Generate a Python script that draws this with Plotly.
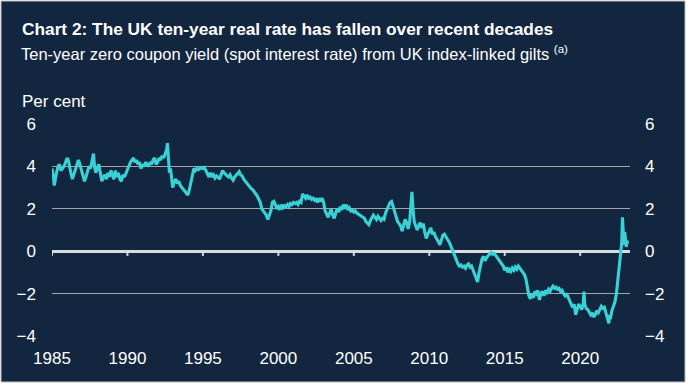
import plotly.graph_objects as go

# ---- data ----
years = [
    1985.00, 1985.08, 1985.15, 1985.22, 1985.30, 1985.40, 1985.50, 1985.60, 1985.70, 1985.80, 1985.90,
    1986.00, 1986.08, 1986.15, 1986.25, 1986.35, 1986.45, 1986.55, 1986.65, 1986.75, 1986.85, 1986.95,
    1987.05, 1987.15, 1987.25, 1987.35, 1987.45, 1987.55, 1987.65, 1987.75, 1987.82, 1987.90,
    1988.00, 1988.10, 1988.20, 1988.30, 1988.40, 1988.50, 1988.60, 1988.70, 1988.80, 1988.90,
    1989.00, 1989.10, 1989.20, 1989.30, 1989.40, 1989.50, 1989.60, 1989.70, 1989.80, 1989.90,
    1990.00, 1990.10, 1990.20, 1990.30, 1990.40, 1990.50, 1990.60, 1990.70, 1990.80, 1990.90,
    1991.00, 1991.10, 1991.20, 1991.30, 1991.40, 1991.50, 1991.60, 1991.70, 1991.80, 1991.90,
    1992.00, 1992.10, 1992.20, 1992.30, 1992.40, 1992.50, 1992.60, 1992.65, 1992.72, 1992.78, 1992.85, 1992.92,
    1993.00, 1993.10, 1993.20, 1993.30, 1993.40, 1993.50, 1993.60, 1993.70, 1993.80, 1993.90,
    1994.00, 1994.10, 1994.20, 1994.30, 1994.40, 1994.50, 1994.60, 1994.70, 1994.80, 1994.90,
    1995.00, 1995.10, 1995.20, 1995.30, 1995.40, 1995.50, 1995.60, 1995.70, 1995.80, 1995.90,
    1996.00, 1996.10, 1996.20, 1996.30, 1996.40, 1996.50, 1996.60, 1996.70, 1996.80, 1996.90,
    1997.00, 1997.10, 1997.20, 1997.30, 1997.40, 1997.50, 1997.60, 1997.70, 1997.80, 1997.90,
    1998.00, 1998.10, 1998.20, 1998.30, 1998.40, 1998.50, 1998.60, 1998.70, 1998.80, 1998.90,
    1999.00, 1999.10, 1999.20, 1999.30, 1999.40, 1999.50, 1999.60, 1999.70, 1999.80, 1999.90,
    2000.00, 2000.10, 2000.20, 2000.30, 2000.40, 2000.50, 2000.60, 2000.70, 2000.80, 2000.90,
    2001.00, 2001.10, 2001.20, 2001.30, 2001.40, 2001.50, 2001.60, 2001.70, 2001.80, 2001.90,
    2002.00, 2002.10, 2002.20, 2002.30, 2002.40, 2002.50, 2002.60, 2002.70, 2002.80, 2002.90,
    2003.00, 2003.10, 2003.20, 2003.30, 2003.40, 2003.50, 2003.60, 2003.70, 2003.80, 2003.90,
    2004.00, 2004.10, 2004.20, 2004.30, 2004.40, 2004.50, 2004.60, 2004.70, 2004.80, 2004.90,
    2005.00, 2005.10, 2005.20, 2005.30, 2005.40, 2005.50, 2005.60, 2005.70, 2005.80, 2005.90,
    2006.00, 2006.10, 2006.20, 2006.30, 2006.40, 2006.50, 2006.60, 2006.70, 2006.80, 2006.90,
    2007.00, 2007.10, 2007.20, 2007.30, 2007.40, 2007.50, 2007.60, 2007.70, 2007.80, 2007.90,
    2008.00, 2008.10, 2008.20, 2008.30, 2008.40, 2008.50, 2008.60, 2008.70, 2008.80, 2008.85, 2008.92,
    2009.00, 2009.10, 2009.20, 2009.30, 2009.40, 2009.50, 2009.60, 2009.70, 2009.80, 2009.90,
    2010.00, 2010.10, 2010.20, 2010.30, 2010.40, 2010.50, 2010.60, 2010.70, 2010.80, 2010.90,
    2011.00, 2011.10, 2011.20, 2011.30, 2011.40, 2011.50, 2011.60, 2011.70, 2011.80, 2011.90,
    2012.00, 2012.10, 2012.20, 2012.30, 2012.40, 2012.50, 2012.60, 2012.70, 2012.80, 2012.90,
    2013.00, 2013.10, 2013.20, 2013.30, 2013.40, 2013.50, 2013.60, 2013.70, 2013.80, 2013.90,
    2014.00, 2014.10, 2014.20, 2014.30, 2014.40, 2014.50, 2014.60, 2014.70, 2014.80, 2014.90,
    2015.00, 2015.10, 2015.20, 2015.30, 2015.40, 2015.50, 2015.60, 2015.70, 2015.80, 2015.90,
    2016.00, 2016.10, 2016.20, 2016.30, 2016.40, 2016.50, 2016.60, 2016.70, 2016.80, 2016.90,
    2017.00, 2017.10, 2017.20, 2017.30, 2017.40, 2017.50, 2017.60, 2017.70, 2017.80, 2017.90,
    2018.00, 2018.10, 2018.20, 2018.30, 2018.40, 2018.50, 2018.60, 2018.70, 2018.80, 2018.90,
    2019.00, 2019.10, 2019.20, 2019.30, 2019.40, 2019.50, 2019.60, 2019.70, 2019.80, 2019.90,
    2020.00, 2020.10, 2020.20, 2020.25, 2020.30, 2020.40, 2020.50, 2020.60, 2020.70, 2020.80, 2020.90,
    2021.00, 2021.10, 2021.20, 2021.30, 2021.40, 2021.50, 2021.60, 2021.70, 2021.80, 2021.90, 2021.95,
    2022.00, 2022.10, 2022.20, 2022.30, 2022.40, 2022.50, 2022.55, 2022.60, 2022.65, 2022.70, 2022.75,
    2022.80, 2022.85, 2022.90, 2022.95, 2023.00, 2023.05, 2023.10, 2023.15,
]

real_rate = [
    3.9, 3.6, 3.1, 3.5, 3.7, 4.0, 4.1, 3.8, 3.9, 4.0, 4.2,
    4.4, 4.3, 4.0, 3.7, 3.4, 3.6, 3.9, 4.0, 4.3, 4.1, 3.8,
    3.6, 3.3, 3.5, 3.8, 4.0, 3.9, 4.2, 4.6, 4.0, 3.7,
    3.9, 4.1, 3.7, 3.3, 3.5, 3.6, 3.4, 3.7, 3.5, 3.8,
    3.6, 3.4, 3.8, 3.5, 3.7, 3.4, 3.3, 3.6, 3.5, 3.7,
    3.9, 4.1, 4.2, 4.3, 4.4, 4.2, 4.3, 4.1, 4.2, 3.9,
    4.1, 4.0, 4.2, 4.1, 4.0, 4.2, 4.1, 4.3, 4.4, 4.1,
    4.2, 4.4, 4.3, 4.5, 4.4, 4.6, 4.8, 5.1, 4.2, 3.7, 3.9, 3.5,
    3.0, 3.3, 3.4, 3.2, 3.3, 3.1, 3.0, 2.9, 2.8, 2.7,
    2.65, 2.9, 3.3, 3.6, 3.9, 3.8, 3.9, 3.85, 3.9, 3.95,
    3.9, 3.95, 3.8, 3.6, 3.5, 3.7, 3.5, 3.6, 3.45, 3.55,
    3.5, 3.4, 3.6, 3.8, 3.7, 3.6, 3.55, 3.5, 3.6, 3.45,
    3.35, 3.5, 3.6, 3.7, 3.75, 3.6, 3.55, 3.4, 3.3, 3.2,
    3.1, 3.0, 2.95, 2.9, 2.8, 2.75, 2.6, 2.45, 2.3, 2.0,
    1.9, 1.8, 1.7, 1.5, 1.75, 1.9, 2.3, 2.35, 2.2, 2.0,
    2.1, 1.95, 2.2, 2.05, 2.15, 2.1, 2.2, 2.1, 2.25, 2.2,
    2.3, 2.25, 2.3, 2.2, 2.35, 2.3, 2.7, 2.6, 2.5, 2.65,
    2.5, 2.55, 2.45, 2.5, 2.4, 2.45, 2.3, 2.5, 2.35, 2.5,
    2.3, 1.9, 1.7, 1.6, 1.8, 2.0, 1.7, 1.55, 1.8, 2.0,
    1.85, 2.1, 1.95, 2.2, 2.0, 2.2, 1.95, 2.05, 1.9, 1.95,
    1.85, 1.9, 1.8, 1.75, 1.7, 1.65, 1.6, 1.55, 1.4, 1.3,
    1.25, 1.45, 1.6, 1.7, 1.6, 1.5, 1.65, 1.55, 1.45, 1.55,
    1.5, 1.8, 1.95, 2.1, 2.3, 2.35, 2.1, 1.8, 1.6, 1.4,
    1.3, 1.2, 0.95, 1.3, 1.5, 1.35, 1.05, 1.4, 2.2, 2.8, 2.0,
    1.4, 1.2, 1.0, 1.2, 1.35, 1.1, 1.3, 0.9, 0.6, 0.8,
    1.0, 1.1, 0.8, 0.9, 0.7, 0.6, 0.45, 0.3, 0.5, 0.75,
    0.8, 0.7, 0.55, 0.45, 0.3, 0.1, 0.0, -0.2, -0.45, -0.6,
    -0.7, -0.65, -0.75, -0.7, -0.8, -0.65, -0.6, -0.75, -0.7, -0.9,
    -1.1, -1.3, -1.45, -1.0, -0.6, -0.35, -0.25, -0.45, -0.3, -0.2,
    -0.1, -0.05, -0.15, -0.1, -0.2, -0.3, -0.35, -0.45, -0.55, -0.7,
    -0.9, -0.75, -1.0, -0.85, -0.95, -0.8, -0.9, -0.75, -0.85, -0.7,
    -0.8, -0.9, -0.95, -1.1, -1.3, -1.7, -2.1, -2.25, -2.0, -2.2,
    -1.9, -2.0, -1.85, -2.3, -2.0, -1.9, -2.1, -1.85, -1.95, -1.8,
    -1.9, -1.75, -1.65, -1.75, -1.7, -1.8, -1.75, -1.9, -1.85, -2.0,
    -2.1, -2.0, -2.2, -2.35, -2.5, -2.65, -2.5, -3.0, -2.7, -2.5,
    -2.6, -2.75, -2.5, -1.9, -2.5, -2.7, -2.75, -2.85, -3.0, -2.9, -3.1,
    -3.0, -2.8, -2.9, -2.75, -2.6, -2.7, -2.65, -2.9, -3.1, -3.4, -3.0,
    -3.2, -2.8, -2.6, -2.4, -2.0, -1.3, -1.0, -0.7, -0.4, -0.1, 0.4,
    1.6, 1.0, 0.3, 0.9, 0.4, 0.2, 0.5, 0.35,
]

x_ticks = [1985, 1990, 1995, 2000, 2005, 2010, 2015, 2020]
y_ticks = [-4, -2, 0, 2, 4, 6]
x_range = [1985, 2023.3]
y_range = [-4, 6]

title_text = "<b>Chart 2: The UK ten-year real rate has fallen over recent decades</b>"
subtitle_text = "Ten-year zero coupon yield (spot interest rate) from UK index-linked gilts <sup>(a)</sup>"
unit_text = "Per cent"

# ---- styling ----
NAVY = "#13263f"
LINE = "#38d2d6"
GRID = "#a6a6a6"
ZERO = "#dcdcdc"
TEXT = "#ffffff"
FONT = "Liberation Sans, Arial, sans-serif"

W, H = 688, 387
ML, MR, MT, MB = 52, 58, 124, 51
PW, PH = W - ML - MR, H - MT - MB

def px_x(px):
    return (px - ML) / PW

def px_y(py):
    return (H - MB - py) / PH

fig = go.Figure()

fig.add_trace(go.Scatter(
    x=years, y=real_rate, mode="lines",
    line=dict(color=LINE, width=3.1),
    showlegend=False, hoverinfo="x+y",
))
# invisible trace to activate the right-hand axis
fig.add_trace(go.Scatter(
    x=[years[0]], y=[real_rate[0]], yaxis="y2", mode="lines",
    line=dict(width=0), showlegend=False, hoverinfo="skip",
))

shapes = [
    dict(type="rect", xref="paper", yref="paper",
         x0=px_x(1), x1=px_x(685), y0=px_y(382), y1=px_y(1),
         fillcolor=NAVY, line=dict(color="#bdbdbd", width=1), layer="below"),
]
for t in x_ticks:
    shapes.append(dict(type="line", xref="x", yref="y", x0=t, x1=t, y0=0, y1=-0.22,
                       line=dict(color=ZERO, width=2), layer="below"))

fig.update_layout(
    width=W, height=H,
    margin=dict(l=ML, r=MR, t=MT, b=MB, autoexpand=False),
    paper_bgcolor="#ffffff",
    plot_bgcolor="rgba(0,0,0,0)",
    font=dict(family=FONT, color=TEXT, size=17),
    title=dict(text=title_text, xref="container", yref="container",
               x=22 / W, xanchor="left", y=1 - 29 / H, yanchor="middle",
               pad=dict(t=0, b=0, l=0, r=0),
               font=dict(family=FONT, size=17.3, color=TEXT)),
    xaxis=dict(range=x_range, tickvals=x_ticks, ticktext=[str(t) for t in x_ticks],
               showgrid=False, zeroline=False, showline=False, ticks="",
               automargin=False,
               ticklabelstandoff=10, tickfont=dict(size=17, color=TEXT)),
    yaxis=dict(range=y_range, tickvals=y_ticks, showgrid=True, gridcolor=GRID,
               gridwidth=1.2, zeroline=True, zerolinecolor=ZERO, zerolinewidth=3,
               showline=False, ticks="", automargin=False,
               ticklabelstandoff=15, tickfont=dict(size=17, color=TEXT)),
    yaxis2=dict(range=y_range, tickvals=y_ticks, overlaying="y", side="right",
                showgrid=False, zeroline=False, showline=False, ticks="",
                automargin=False,
                ticklabelstandoff=14, tickfont=dict(size=17, color=TEXT)),
    shapes=shapes,
    annotations=[
        dict(text=subtitle_text, xref="paper", yref="paper", x=px_x(19), y=px_y(53),
             xanchor="left", yanchor="middle", showarrow=False,
             font=dict(family=FONT, size=16.5, color=TEXT)),
        dict(text=unit_text, xref="paper", yref="paper", x=px_x(20), y=px_y(101),
             xanchor="left", yanchor="middle", showarrow=False,
             font=dict(family=FONT, size=17, color=TEXT)),
    ],
    showlegend=False,
)

fig.write_html(
    "out.html",
    config={"displayModeBar": False},
    post_script="document.body.style.margin='0';document.body.style.overflow='hidden';",
)
